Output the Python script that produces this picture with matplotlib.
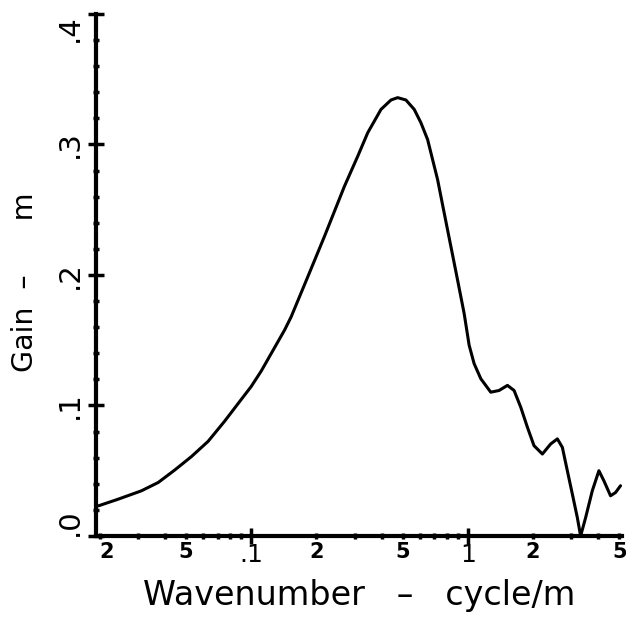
import matplotlib
matplotlib.use("Agg")
import matplotlib.pyplot as plt

# Data (wavenumber in cycle/m, gain in m)
wavenumber = [0.0197, 0.0243, 0.0311, 0.0372, 0.0443, 0.0529, 0.0632, 0.0753, 0.0868,
              0.100, 0.1112, 0.1424, 0.1528, 0.1825, 0.2177, 0.2692, 0.3102, 0.3450,
              0.3973, 0.4418, 0.4742, 0.5178, 0.5655, 0.6071, 0.6520, 0.6874, 0.7251,
              0.7645, 0.8061, 0.8502, 0.8965, 0.9616, 1.014, 1.069, 1.148, 1.276,
              1.394, 1.524, 1.635, 1.755, 1.884, 2.021, 2.209, 2.412, 2.591, 2.732,
              2.880, 3.038, 3.203, 3.317, 3.499, 3.755, 4.029, 4.248, 4.560, 4.809, 5.07]
gain = [0.0231, 0.0282, 0.0346, 0.0410, 0.0505, 0.0608, 0.0725, 0.0879, 0.1013,
        0.1146, 0.1264, 0.1577, 0.1679, 0.1987, 0.2295, 0.2679, 0.2910, 0.3090,
        0.3269, 0.3341, 0.3359, 0.3341, 0.3269, 0.3167, 0.3038, 0.2885, 0.2731,
        0.2538, 0.2346, 0.2154, 0.1962, 0.1705, 0.1462, 0.1321, 0.1205, 0.1102,
        0.1115, 0.1154, 0.1115, 0.0987, 0.0833, 0.0692, 0.0628, 0.0705, 0.0744, 0.0679,
        0.0500, 0.0321, 0.0141, 0.0, 0.0141, 0.0346, 0.0500, 0.0423, 0.0308, 0.0333, 0.0385]

major_x = [0.1, 1.0]
major_x_labels = [".1", "1"]
minor_x = [0.02, 0.03, 0.04, 0.05, 0.06, 0.07, 0.08, 0.09,
           0.2, 0.3, 0.4, 0.5, 0.6, 0.7, 0.8, 0.9,
           2, 3, 4, 5]
minor_x_labels = ["2", "", "", "5", "", "", "", "",
                  "2", "", "", "5", "", "", "", "",
                  "2", "", "", "5"]
major_y = [0.0, 0.1, 0.2, 0.3, 0.4]
major_y_labels = [".0", ".1", ".2", ".3", ".4"]
minor_y = [0.02, 0.04, 0.06, 0.08, 0.12, 0.14, 0.16, 0.18,
           0.22, 0.24, 0.26, 0.28, 0.32, 0.34, 0.36, 0.38]

fig = plt.figure(figsize=(6.26, 6.22), dpi=100)
ax = fig.add_axes([0.1534, 0.1383, 0.8402, 0.8392])

ax.plot(wavenumber, gain, color="black", lw=2.2,
        solid_joinstyle="round", solid_capstyle="round")

ax.set_xscale("log")
ax.set_xlim(0.0192, 5.15)
ax.set_ylim(0, 0.4)

for s in ["top", "right"]:
    ax.spines[s].set_visible(False)
for s in ["left", "bottom"]:
    ax.spines[s].set_linewidth(3.0)

ax.set_xticks(major_x, labels=major_x_labels)
ax.set_xticks(minor_x, labels=minor_x_labels, minor=True)
ax.set_yticks(major_y, labels=major_y_labels)
ax.set_yticks(minor_y, minor=True)

ax.tick_params(axis="both", which="major", direction="inout", length=12, width=2.5)
ax.tick_params(axis="both", which="minor", direction="inout", length=5, width=2.5)
ax.tick_params(axis="x", which="minor", labelsize=15, pad=2)
ax.tick_params(axis="x", which="major", labelsize=18, pad=-1)
ax.tick_params(axis="y", which="both", labelsize=21, pad=3)
for lab in ax.get_xticklabels(which="minor"):
    lab.set_fontweight("bold")
ax.get_xticklabels(which="minor")[0].set_ha("left")
ylabs = ax.get_yticklabels()
for i, lab in enumerate(ylabs):
    lab.set_rotation(90)
    if i == 0:
        lab.set_va("bottom")
    elif i == len(ylabs) - 1:
        lab.set_va("top")
    else:
        lab.set_va("center")

ax.set_xlabel("Wavenumber   \u2013   cycle/m", fontsize=24, labelpad=9)
fig.text(25 / 626, 1 - 282.5 / 622, "Gain  \u2013      m", fontsize=20.5,
         rotation=90, ha="center", va="center")

fig.savefig("out.png", dpi=100)
